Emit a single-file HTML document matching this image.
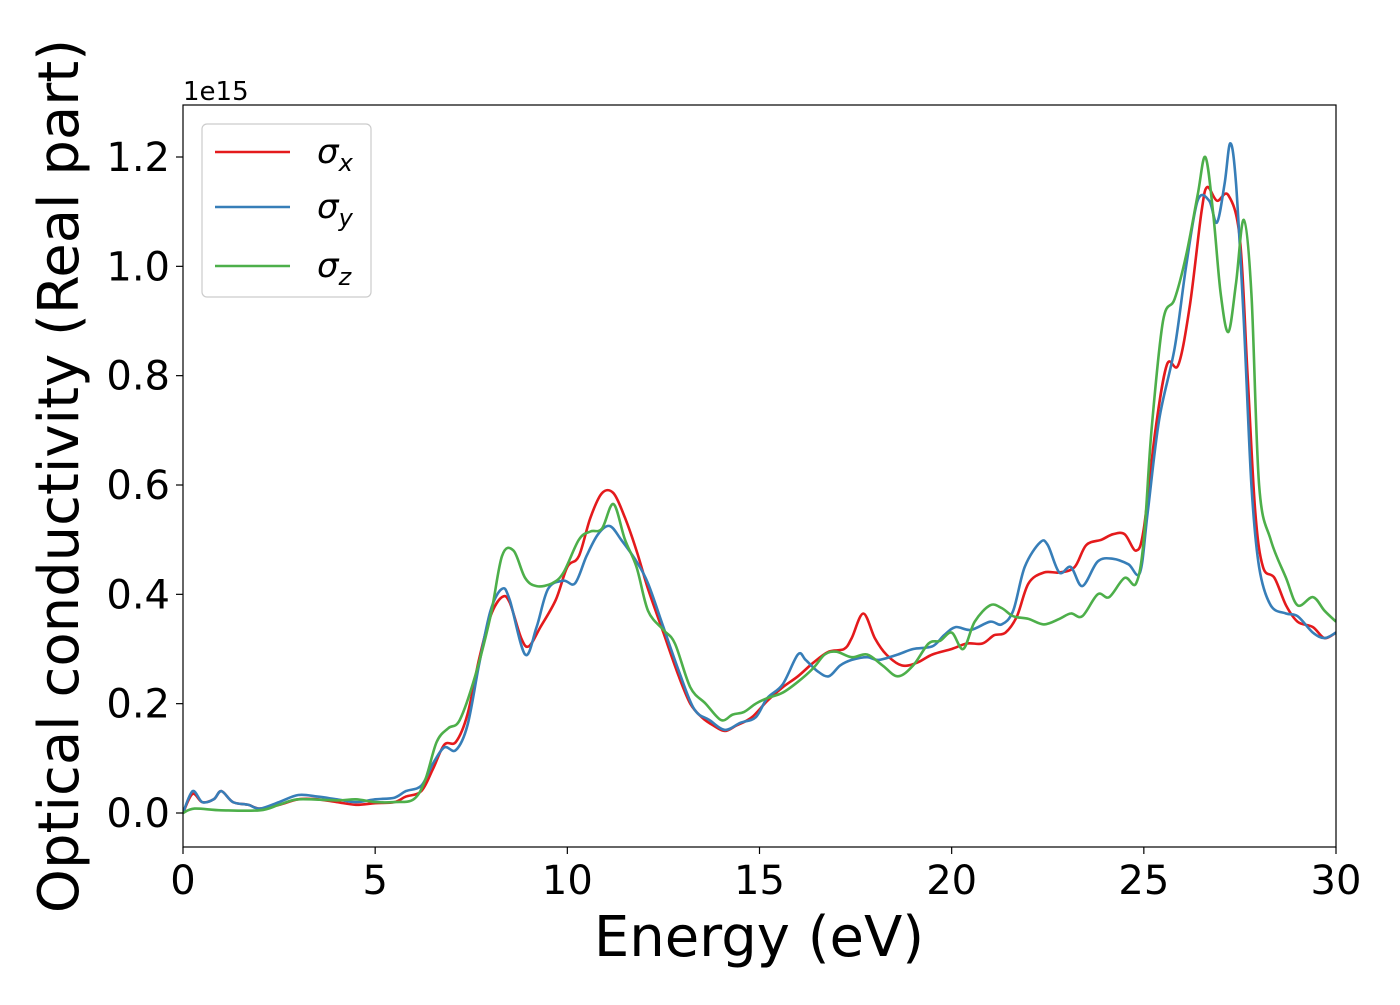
<!DOCTYPE html>
<html><head><meta charset="utf-8"><style>
html,body{margin:0;padding:0;background:#fff;}
svg text{font-family:"DejaVu Sans","Liberation Sans",sans-serif;fill:#000;}
</style></head><body>
<svg id="chart" width="1400" height="1000" xmlns="http://www.w3.org/2000/svg">
<rect x="0" y="0" width="1400" height="1000" fill="#fff"/>
<g id="series"></g>
<g id="axes"></g>
<rect x="183" y="105" width="1153" height="742" fill="none" stroke="#000" stroke-width="1.2"/>
<text x="183" y="100" font-size="26">1e15</text>
<text x="759" y="956" font-size="56" text-anchor="middle">Energy (eV)</text>
<text transform="translate(78,476) rotate(-90)" font-size="56" text-anchor="middle">Optical conductivity (Real part)</text>
<g>
<rect x="202" y="124" width="169" height="173" rx="5" fill="#fff" stroke="#ccc" stroke-width="1.2"/>
<line x1="215" x2="290" y1="152" y2="152" stroke="#e41a1c" stroke-width="2.5"/>
<text x="317" y="163" font-size="34" font-style="italic">σ<tspan font-size="24" dy="8">x</tspan></text>
<line x1="215" x2="290" y1="207" y2="207" stroke="#377eb8" stroke-width="2.5"/>
<text x="317" y="218" font-size="34" font-style="italic">σ<tspan font-size="24" dy="8">y</tspan></text>
<line x1="215" x2="290" y1="266" y2="266" stroke="#4daf4a" stroke-width="2.5"/>
<text x="317" y="277" font-size="34" font-style="italic">σ<tspan font-size="24" dy="8">z</tspan></text>
</g>
</svg>
<script>
const xTicks=[0,5,10,15,20,25,30];
const yTicks=[0,0.2,0.4,0.6,0.8,1.0,1.2];
const yTickLabels=["0.0","0.2","0.4","0.6","0.8","1.0","1.2"];
const sigmaXE=[0,0.25,0.5,0.8,1.0,1.3,1.7,2.0,2.5,3.0,3.5,4.0,4.5,5.0,5.5,5.8,6.2,6.5,6.8,7.1,7.4,7.7,8.0,8.3,8.5,8.8,9.0,9.3,9.7,10.0,10.3,10.6,10.9,11.2,11.5,11.8,12.1,12.5,12.9,13.2,13.5,13.8,14.1,14.4,14.8,15.2,15.6,16.0,16.4,16.8,17.2,17.4,17.7,18.0,18.3,18.7,19.1,19.5,20.0,20.4,20.8,21.1,21.4,21.7,22.0,22.4,22.8,23.2,23.5,23.9,24.2,24.5,24.8,25.0,25.3,25.6,25.9,26.2,26.5,26.65,26.9,27.2,27.5,27.7,27.9,28.1,28.4,28.7,29.0,29.4,29.7,30];
const sigmaXV=[0,0.035,0.02,0.025,0.04,0.02,0.015,0.008,0.015,0.025,0.025,0.02,0.015,0.018,0.02,0.03,0.04,0.08,0.125,0.13,0.18,0.28,0.36,0.395,0.385,0.32,0.305,0.34,0.39,0.45,0.47,0.54,0.585,0.585,0.54,0.48,0.41,0.33,0.25,0.2,0.175,0.16,0.15,0.16,0.175,0.205,0.23,0.25,0.275,0.295,0.3,0.32,0.365,0.32,0.29,0.27,0.275,0.29,0.3,0.31,0.31,0.325,0.33,0.36,0.42,0.44,0.44,0.45,0.49,0.5,0.51,0.51,0.48,0.52,0.7,0.82,0.82,0.93,1.1,1.145,1.12,1.13,1.05,0.8,0.55,0.45,0.43,0.38,0.35,0.34,0.32,0.33];
const sigmaYE=[0,0.25,0.5,0.8,1.0,1.3,1.7,2.0,2.5,3.0,3.5,4.0,4.5,5.0,5.5,5.8,6.2,6.5,6.8,7.1,7.4,7.7,8.0,8.3,8.5,8.9,9.2,9.5,9.9,10.2,10.5,10.8,11.1,11.4,11.8,12.1,12.5,12.9,13.3,13.7,14.1,14.5,14.9,15.2,15.6,16.0,16.2,16.5,16.8,17.1,17.4,17.8,18.1,18.6,19.0,19.5,19.8,20.1,20.5,21.0,21.3,21.6,21.9,22.3,22.5,22.8,23.1,23.4,23.8,24.2,24.6,24.9,25.1,25.4,25.8,26.1,26.4,26.7,26.9,27.1,27.25,27.4,27.6,27.8,28.0,28.3,28.7,29.0,29.4,29.7,30];
const sigmaYV=[0,0.04,0.02,0.025,0.04,0.02,0.015,0.008,0.02,0.033,0.03,0.025,0.02,0.025,0.028,0.04,0.05,0.09,0.12,0.115,0.16,0.27,0.37,0.41,0.39,0.29,0.34,0.41,0.425,0.42,0.47,0.51,0.525,0.5,0.46,0.42,0.34,0.26,0.19,0.17,0.152,0.165,0.175,0.21,0.235,0.29,0.28,0.26,0.25,0.27,0.28,0.285,0.28,0.29,0.3,0.305,0.325,0.34,0.335,0.35,0.345,0.37,0.45,0.495,0.49,0.44,0.45,0.415,0.46,0.465,0.455,0.44,0.55,0.72,0.85,1.0,1.12,1.12,1.08,1.15,1.225,1.15,0.9,0.6,0.45,0.38,0.365,0.36,0.33,0.32,0.33];
const sigmaZE=[0,0.3,1.0,2.0,2.5,3.0,4.0,4.5,5.0,5.5,6.0,6.3,6.6,6.9,7.2,7.6,8.0,8.3,8.6,8.9,9.2,9.6,9.9,10.3,10.6,10.9,11.2,11.5,11.8,12.1,12.5,12.8,13.2,13.6,14.0,14.3,14.6,14.9,15.2,15.6,16.0,16.4,16.7,17.0,17.4,17.8,18.2,18.6,19.0,19.4,19.7,20.0,20.3,20.6,21.0,21.3,21.6,22.0,22.4,22.8,23.1,23.4,23.8,24.1,24.5,24.8,25.0,25.2,25.5,25.8,26.1,26.4,26.6,26.8,27.0,27.2,27.4,27.6,27.8,28.0,28.3,28.7,29.0,29.4,29.7,30];
const sigmaZV=[0,0.008,0.005,0.005,0.015,0.025,0.023,0.025,0.02,0.02,0.025,0.06,0.13,0.155,0.17,0.25,0.36,0.47,0.48,0.43,0.415,0.42,0.44,0.5,0.515,0.52,0.565,0.5,0.45,0.37,0.335,0.31,0.23,0.2,0.17,0.18,0.185,0.2,0.21,0.22,0.24,0.265,0.29,0.295,0.285,0.29,0.27,0.25,0.27,0.31,0.315,0.33,0.3,0.35,0.38,0.375,0.36,0.355,0.345,0.355,0.365,0.36,0.4,0.395,0.43,0.42,0.5,0.7,0.9,0.94,1.02,1.13,1.2,1.1,0.95,0.88,0.97,1.085,0.95,0.6,0.5,0.43,0.38,0.395,0.37,0.35];

const X=v=>183+v*(1153/30);
const Y=v=>813-v*(656/1.2);
const NS="http://www.w3.org/2000/svg";
function smoothPath(xs,ys){
  const p=xs.map((x,i)=>[X(x),Y(ys[i])]);
  let d="M"+p[0][0].toFixed(1)+","+p[0][1].toFixed(1);
  for(let i=0;i<p.length-1;i++){
    const p0=p[Math.max(0,i-1)],p1=p[i],p2=p[i+1],p3=p[Math.min(p.length-1,i+2)];
    const c1=[p1[0]+(p2[0]-p0[0])/6,p1[1]+(p2[1]-p0[1])/6];
    const c2=[p2[0]-(p3[0]-p1[0])/6,p2[1]-(p3[1]-p1[1])/6];
    d+="C"+c1[0].toFixed(1)+","+c1[1].toFixed(1)+" "+c2[0].toFixed(1)+","+c2[1].toFixed(1)+" "+p2[0].toFixed(1)+","+p2[1].toFixed(1);
  }
  return d;
}
const sg=document.getElementById('series');
const clip=document.createElementNS(NS,'clipPath');clip.setAttribute('id','pc');
const cr=document.createElementNS(NS,'rect');cr.setAttribute('x',183);cr.setAttribute('y',105);cr.setAttribute('width',1153);cr.setAttribute('height',742);
clip.appendChild(cr);sg.appendChild(clip);
function addLine(xs,ys,color,name){
  const path=document.createElementNS(NS,'path');
  path.setAttribute('d',smoothPath(xs,ys));
  path.setAttribute('fill','none');path.setAttribute('stroke',color);path.setAttribute('stroke-width','2.6');
  path.setAttribute('stroke-linejoin','round');path.setAttribute('clip-path','url(#pc)');
  
  
  sg.appendChild(path);
}
addLine(sigmaXE,sigmaXV,'#e41a1c','sigma-x-line');
addLine(sigmaYE,sigmaYV,'#377eb8','sigma-y-line');
addLine(sigmaZE,sigmaZV,'#4daf4a','sigma-z-line');
const ag=document.getElementById('axes');
xTicks.forEach(t=>{
  const l=document.createElementNS(NS,'line');
  l.setAttribute('x1',X(t));l.setAttribute('x2',X(t));l.setAttribute('y1',847);l.setAttribute('y2',854);l.setAttribute('stroke','#000');l.setAttribute('stroke-width','1.2');
  
  
  ag.appendChild(l);
  const tx=document.createElementNS(NS,'text');
  tx.setAttribute('x',X(t));tx.setAttribute('y',894);tx.setAttribute('font-size','40');tx.setAttribute('text-anchor','middle');
  tx.textContent=String(t);
  
  
  ag.appendChild(tx);
});
yTicks.forEach((t,i)=>{
  const l=document.createElementNS(NS,'line');
  l.setAttribute('x1',176);l.setAttribute('x2',183);l.setAttribute('y1',Y(t));l.setAttribute('y2',Y(t));l.setAttribute('stroke','#000');l.setAttribute('stroke-width','1.2');
  
  
  ag.appendChild(l);
  const tx=document.createElementNS(NS,'text');
  tx.setAttribute('x',170);tx.setAttribute('y',Y(t)+14);tx.setAttribute('font-size','40');tx.setAttribute('text-anchor','end');
  tx.textContent=yTickLabels[i];
  
  
  ag.appendChild(tx);
});
</script>
</body></html>
